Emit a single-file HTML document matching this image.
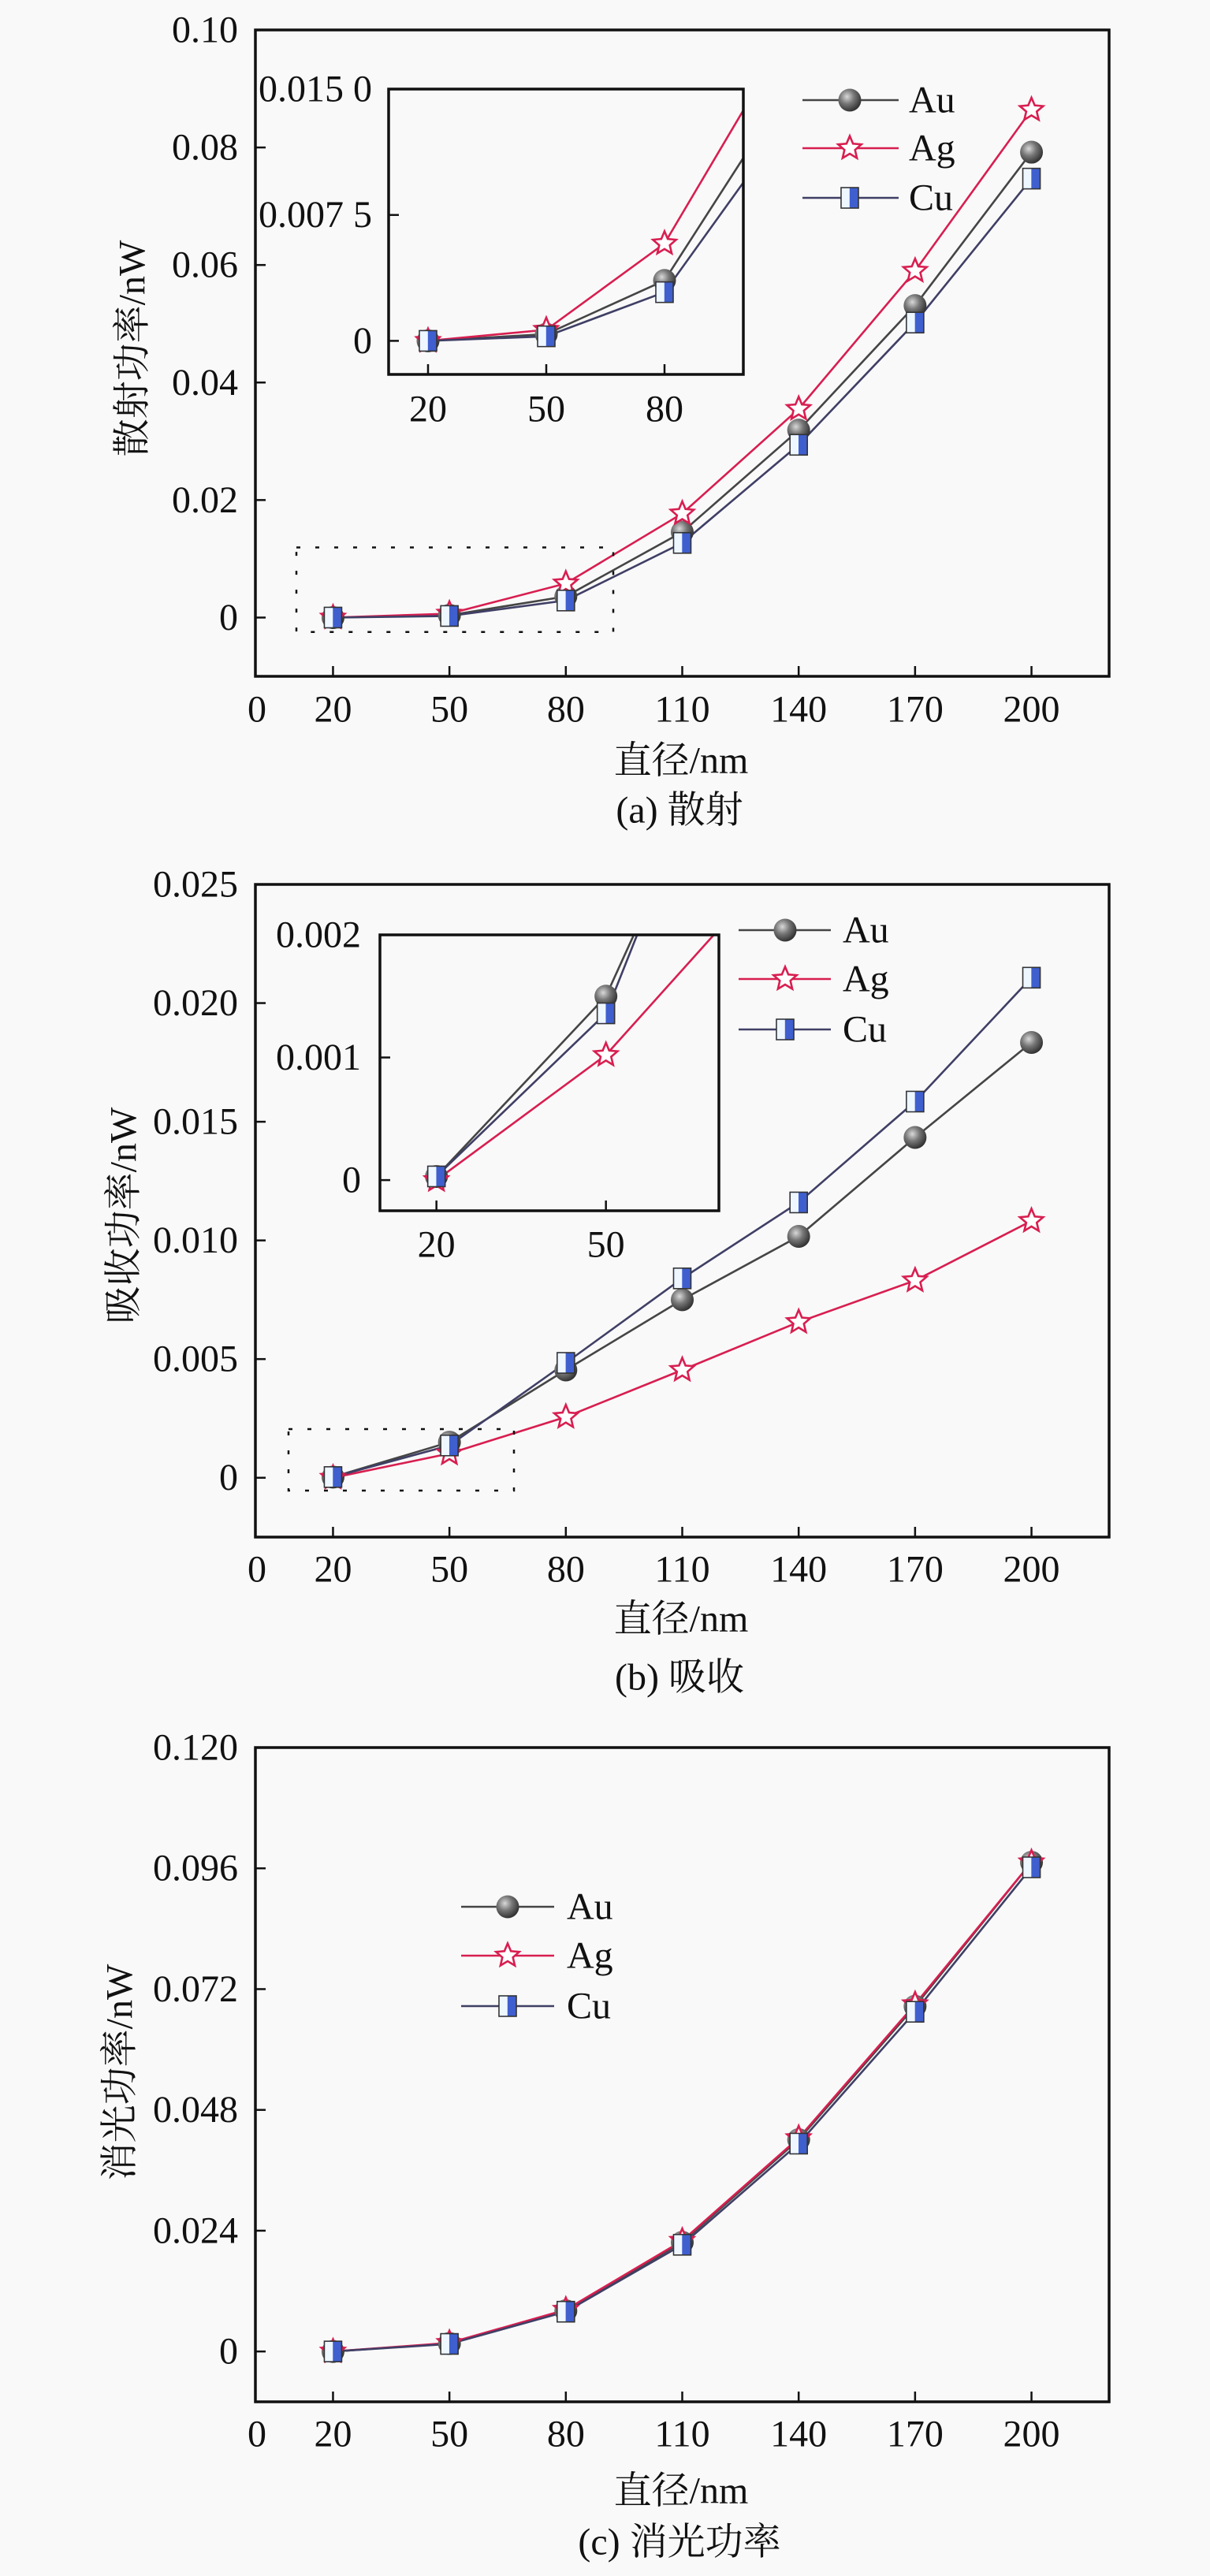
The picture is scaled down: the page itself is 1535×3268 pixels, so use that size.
<!DOCTYPE html>
<html><head><meta charset="utf-8">
<style>
html,body{margin:0;padding:0;background:#f9f9f9;}
svg{display:block;}
text{font-family:"Liberation Serif","Noto Serif CJK SC","Noto Sans CJK SC",serif;fill:#111;}
</style></head>
<body>
<svg id="s" width="1535" height="3268" viewBox="0 0 1535 3268" xmlns="http://www.w3.org/2000/svg">
<defs>
<radialGradient id="sph" cx="0.38" cy="0.35" r="0.7">
<stop offset="0" stop-color="#d8d8d8"/><stop offset="0.45" stop-color="#777"/><stop offset="1" stop-color="#2a2a2a"/>
</radialGradient>
<clipPath id="ca"><rect x="493" y="113" width="450" height="362"/></clipPath>
<clipPath id="cb"><rect x="482" y="1186" width="430" height="350"/></clipPath>
</defs>
<g id="g"></g>
</svg>
<script>
var NS="http://www.w3.org/2000/svg",G=document.getElementById('g');
function el(t,a,p,txt){var e=document.createElementNS(NS,t);for(var k in a)e.setAttribute(k,a[k]);if(txt!=null)e.textContent=txt;(p||G).appendChild(e);return e;}
var COL={Au:'#454545',Ag:'#d81e50',Cu:'#3f3f66'};
function marker(type,x,y,p){
 if(type=='Au'){el('circle',{cx:x,cy:y,r:14.5,fill:'url(#sph)'},p);}
 else if(type=='Ag'){var pts=[];for(var i=0;i<10;i++){var r=i%2?7:15.5,a=-Math.PI/2+i*Math.PI/5;pts.push((x+r*Math.cos(a)).toFixed(1)+','+(y+r*Math.sin(a)).toFixed(1));}
  el('polygon',{points:pts.join(' '),fill:'#fff',stroke:'#d81e50','stroke-width':2.6},p);}
 else {el('rect',{x:x-11,y:y-13,width:22,height:26,fill:'#3f5fcf',stroke:'#333','stroke-width':1.6},p);
  el('rect',{x:x-10.2,y:y-12.2,width:10,height:24.4,fill:'#eef7ff'},p);}
}
function chart(c){
 var X=function(v){return c.L+(v-c.x0)/(c.x1-c.x0)*(c.R-c.L);},Y=function(v){return c.B-(v-c.y0)/(c.y1-c.y0)*(c.B-c.T);};
 var p=c.clip?el('g',{'clip-path':'url(#'+c.clip+')'}):G;
 var xs=c.xs;
 ['Au','Ag','Cu'].forEach(function(k){var d=c.d[k];var pts=xs.map(function(x,i){return X(x).toFixed(1)+','+Y(d[i]).toFixed(1);});
  el('polyline',{points:pts.join(' '),fill:'none',stroke:COL[k],'stroke-width':2.6},p);});
 ['Au','Ag','Cu'].forEach(function(k){var d=c.d[k];xs.forEach(function(x,i){marker(k,X(x),Y(d[i]),p);});});
 el('rect',{x:c.L,y:c.T,width:c.R-c.L,height:c.B-c.T,fill:'none',stroke:'#111','stroke-width':3.5});
 c.yt.forEach(function(t){var y=Y(t[0]);el('line',{x1:c.L,x2:c.L+13,y1:y,y2:y,stroke:'#111','stroke-width':2.5});
  el('text',{x:c.ylx,y:y,'text-anchor':'end','dominant-baseline':'central','font-size':48},null,t[1]);});
 c.xt.forEach(function(t){var x=X(t);el('line',{x1:x,x2:x,y1:c.B,y2:c.B-13,stroke:'#111','stroke-width':2.5});
  el('text',{x:x,y:c.B+c.xld,'text-anchor':'middle','dominant-baseline':'central','font-size':48},null,String(t));});
 if(c.zero) el('text',{x:c.L+2,y:c.B+c.xld,'text-anchor':'middle','dominant-baseline':'central','font-size':48},null,'0');
}
function legend(x1,x2,m,tx,ys){['Au','Ag','Cu'].forEach(function(k,i){var y=ys[i];el('line',{x1:x1,x2:x2,y1:y,y2:y,stroke:COL[k],'stroke-width':2.6});marker(k,m,y);
 el('text',{x:tx,y:y,'dominant-baseline':'central','font-size':48},null,k);});}
function dash(x1,y1,x2,y2){el('rect',{x:x1,y:y1,width:x2-x1,height:y2-y1,fill:'none',stroke:'#111','stroke-width':2.5,'stroke-dasharray':'5 19'});}
function titles(cy1,cy2,yx,yy,ylab,cap){
 el('text',{x:864,y:cy1,'text-anchor':'middle','dominant-baseline':'central','font-size':48},null,'直径/nm');
 el('text',{x:862,y:cy2,'text-anchor':'middle','dominant-baseline':'central','font-size':48},null,cap);
 el('text',{x:yx,y:yy,'text-anchor':'middle','dominant-baseline':'central','font-size':48,transform:'rotate(-90 '+yx+' '+yy+')'},null,ylab);
}
var XS=[20,50,80,110,140,170,200];
var dA={Au:[0,0.0004,0.0036,0.01455,0.0319,0.0531,0.0792],Ag:[0,0.00066,0.0058,0.0177,0.0355,0.059,0.0864],Cu:[0,0.00027,0.0029,0.0127,0.0294,0.0502,0.0747]};
chart({L:324,R:1407,T:38,B:858,x0:0,x1:220,y0:-0.01,y1:0.10,xs:XS,d:dA,ylx:302,xld:42,zero:1,
 yt:[[0,'0'],[0.02,'0.02'],[0.04,'0.04'],[0.06,'0.06'],[0.08,'0.08'],[0.10,'0.10']],xt:XS});
dash(376,694.5,778,801.8);
chart({L:493,R:943,T:113,B:475,x0:10,x1:100,y0:-0.002,y1:0.015,xs:XS,d:dA,ylx:472,xld:44,clip:'ca',
 yt:[[0,'0'],[0.0075,'0.007 5'],[0.015,'0.015 0']],xt:[20,50,80]});
legend(1018,1140,1078,1153,[127,188,251]);
titles(965,1028,168,442,'散射功率/nW','(a) 散射');
var dB={Au:[0.00003,0.0015,0.00454,0.0075,0.01017,0.01434,0.01834],Ag:[0,0.00102,0.00256,0.00454,0.00656,0.00831,0.01082],Cu:[0.00003,0.00136,0.00484,0.0084,0.0116,0.01585,0.02107]};
chart({L:324,R:1407,T:1122,B:1950,x0:0,x1:220,y0:-0.0025,y1:0.025,xs:XS,d:dB,ylx:302,xld:41,zero:1,
 yt:[[0,'0'],[0.005,'0.005'],[0.010,'0.010'],[0.015,'0.015'],[0.020,'0.020'],[0.025,'0.025']],xt:XS});
dash(366,1813,652,1891);
chart({L:482,R:912,T:1186,B:1536,x0:10,x1:70,y0:-0.00025,y1:0.002,xs:XS,d:dB,ylx:458,xld:43,clip:'cb',
 yt:[[0,'0'],[0.001,'0.001'],[0.002,'0.002']],xt:[20,50]});
legend(937,1054,996,1069,[1180,1242,1306]);
titles(2054,2128,157,1542,'吸收功率/nW','(b) 吸收');
var dC={Au:[0,0.0016,0.0081,0.0217,0.0421,0.0686,0.0972],Ag:[0,0.0017,0.0083,0.022,0.0424,0.069,0.0972],Cu:[0,0.0015,0.0079,0.0212,0.0413,0.0675,0.0962]};
chart({L:324,R:1407,T:2217,B:3047,x0:0,x1:220,y0:-0.01,y1:0.12,xs:XS,d:dC,ylx:302,xld:41,zero:1,
 yt:[[0,'0'],[0.024,'0.024'],[0.048,'0.048'],[0.072,'0.072'],[0.096,'0.096'],[0.12,'0.120']],xt:XS});
legend(585,703,644,719,[2419,2481,2545]);
titles(3160,3225,152,2629,'消光功率/nW','(c) 消光功率');
</script>
</body></html>
